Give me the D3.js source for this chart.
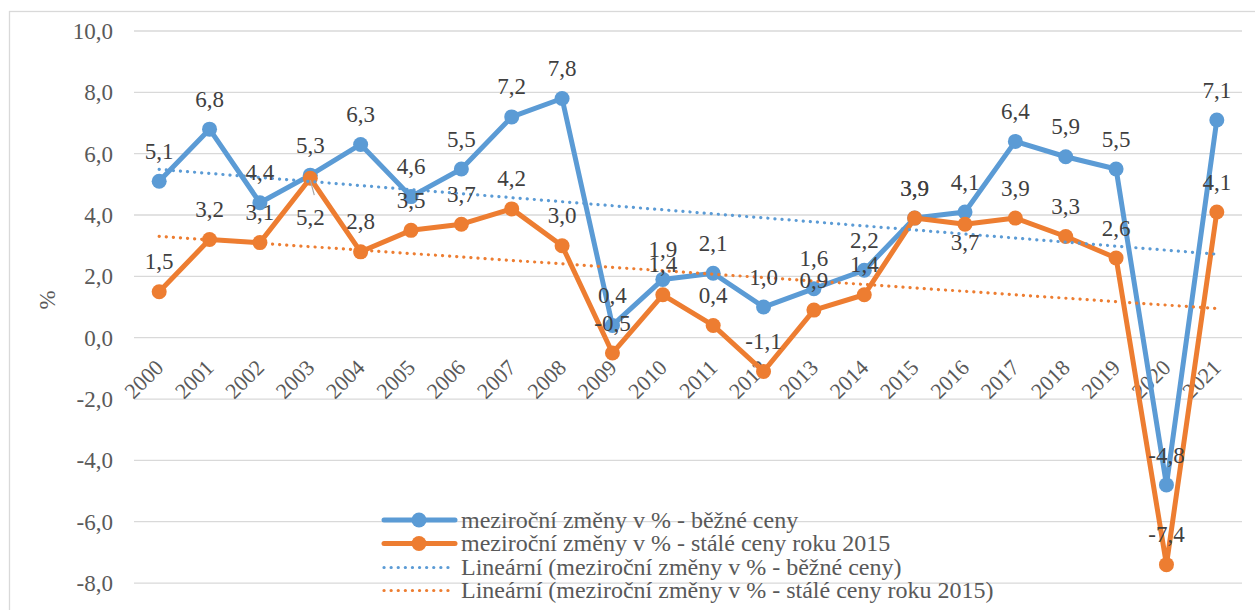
<!DOCTYPE html>
<html>
<head>
<meta charset="utf-8">
<script src="https://cdn.jsdelivr.net/npm/d3@7/dist/d3.min.js"></script>
<style>
  html, body { margin: 0; padding: 0; background: #ffffff; }
  svg { display: block; }
  svg text { font-family: "Liberation Serif", "DejaVu Serif", serif !important; }
</style>
</head>
<body>
<svg id="chart" width="1255" height="610" font-family="Liberation Serif, serif"></svg>
<script>
// ---------- data ----------
const years = ["2000","2001","2002","2003","2004","2005","2006","2007","2008","2009","2010",
               "2011","2012","2013","2014","2015","2016","2017","2018","2019","2020","2021"];
const currentPrices  = [5.1, 6.8, 4.4, 5.3, 6.3, 4.6, 5.5, 7.2, 7.8, 0.4, 1.9,
                        2.1, 1.0, 1.6, 2.2, 3.9, 4.1, 6.4, 5.9, 5.5, -4.8, 7.1];
const constantPrices = [1.5, 3.2, 3.1, 5.2, 2.8, 3.5, 3.7, 4.2, 3.0, -0.5, 1.4,
                        0.4, -1.1, 0.9, 1.4, 3.9, 3.7, 3.9, 3.3, 2.6, -7.4, 4.1];
const gridTicks = [-10, -8, -6, -4, -2, 0, 2, 4, 6, 8, 10];
const yTickLabels = [-8, -6, -4, -2, 0, 2, 4, 6, 8, 10];
const yAxisTitle = "%";
const legendLabels = [
  "meziroční změny v % - běžné ceny",
  "meziroční změny v % - stálé ceny roku 2015",
  "Lineární (meziroční změny v % - běžné ceny)",
  "Lineární (meziroční změny v % - stálé ceny roku 2015)"
];
// label placement for the constant-price series ("above" default)
const constantLabelPlacement = {"2003": "belowFar", "2016": "below"};

// ---------- styles ----------
const BLUE = "#5B9BD5", ORANGE = "#ED7D31", GRID = "#D9D9D9";
const LABEL_COLOR = "#404040", TICK_COLOR = "#595959";
const FONT = '"Liberation Serif", "DejaVu Serif", serif';

const svg = d3.select("#chart");

// chart frame (cropped by the picture edge on right/bottom)
svg.append("rect")
  .attr("x", 9.5).attr("y", 11.5).attr("width", 1300).attr("height", 700)
  .attr("fill", "#fff").attr("stroke", GRID).attr("stroke-width", 1.3);

const x = d3.scalePoint().domain(years).range([134, 1242]).padding(0.5);
const y = d3.scaleLinear().domain([-10, 10]).range([644.4, 31]);

const fmt = v => d3.format(".1f")(v).replace(".", ",").replace("−", "-");

// gridlines
svg.append("g").selectAll("line").data(gridTicks).join("line")
  .attr("x1", 134).attr("x2", 1242)
  .attr("y1", d => y(d)).attr("y2", d => y(d))
  .attr("stroke", GRID).attr("stroke-width", 1.3);

// y axis via d3.axisLeft (labels only)
const yAxis = d3.axisLeft(y).tickValues(yTickLabels).tickFormat(fmt).tickSize(0).tickPadding(0);
const gy = svg.append("g").attr("transform", "translate(113,0)").call(yAxis)
  .attr("font-family", null).attr("font-size", null);
gy.select(".domain").remove();
gy.selectAll("text")
  .attr("fill", TICK_COLOR)
  .style("font-family", FONT)
  .style("font-size", "23px")
  .attr("dy", "0.33em");

// y axis title
svg.append("text")
  .attr("transform", "translate(55,300) rotate(-90)")
  .attr("text-anchor", "middle")
  .attr("fill", TICK_COLOR)
  .style("font-family", FONT)
  .style("font-size", "23px")
  .text(yAxisTitle);

// x axis category labels (rotated)
svg.append("g").selectAll("text").data(years).join("text")
  .attr("transform", d => `translate(${x(d) + 5.5},369) rotate(-45)`)
  .attr("text-anchor", "end")
  .attr("fill", TICK_COLOR)
  .style("font-family", FONT)
  .style("font-size", "22px")
  .text(d => d);

// series
const series = [
  {key: "current", values: currentPrices, color: BLUE},
  {key: "constant", values: constantPrices, color: ORANGE}
];

const line = d3.line().x(d => x(d.year)).y(d => y(d.v));

series.forEach(s => {
  const pts = years.map((yr, i) => ({year: yr, v: s.values[i]}));
  svg.append("path").datum(pts)
    .attr("d", line).attr("fill", "none")
    .attr("stroke", s.color).attr("stroke-width", 5)
    .attr("stroke-linejoin", "round").attr("stroke-linecap", "round");
  svg.append("g").selectAll("circle").data(pts).join("circle")
    .attr("cx", d => x(d.year)).attr("cy", d => y(d.v)).attr("r", 7.5)
    .attr("fill", s.color);
});

// linear trendlines (least squares of each series)
function linReg(vals) {
  const n = vals.length, xs = d3.range(n);
  const mx = d3.mean(xs), my = d3.mean(vals);
  let num = 0, den = 0;
  xs.forEach((xi, i) => { num += (xi - mx) * (vals[i] - my); den += (xi - mx) ** 2; });
  const b = num / den, a = my - b * mx;
  return i => a + b * i;
}
series.forEach(s => {
  const f = linReg(s.values);
  const ends = [0, years.length - 1].map(i => ({year: years[i], v: f(i)}));
  svg.append("path").datum(ends)
    .attr("d", line).attr("fill", "none")
    .attr("stroke", s.color).attr("stroke-width", 3.2)
    .attr("stroke-dasharray", "0.1,7").attr("stroke-linecap", "round");
});

// leader line for moved label
{
  const yr = "2003", i = years.indexOf(yr);
  svg.append("line")
    .attr("x1", x(yr)).attr("y1", y(constantPrices[i]) + 2)
    .attr("x2", x(yr) + 4).attr("y2", y(constantPrices[i]) + 17)
    .attr("stroke", "#A6A6A6").attr("stroke-width", 1.2);
}

// data labels
function labelOffset(key, yr) {
  if (key === "constant") {
    const p = constantLabelPlacement[yr];
    if (p === "belowFar") return 39;
    if (p === "below") return 18;
  }
  return -30;
}
series.forEach(s => {
  svg.append("g").selectAll("text").data(years).join("text")
    .attr("x", d => x(d))
    .attr("y", (d, i) => y(s.values[i]) + labelOffset(s.key, d) + 7.6)
    .attr("text-anchor", "middle")
    .attr("fill", LABEL_COLOR)
    .style("font-family", FONT)
    .style("font-size", "23px")
    .text((d, i) => fmt(s.values[i]));
});

// legend
const legendRows = [520, 543.5, 567.5, 590.5];
legendLabels.forEach((lab, i) => {
  const g = svg.append("g");
  const ry = legendRows[i];
  const color = i % 2 === 0 ? BLUE : ORANGE;
  if (i < 2) {
    g.append("line").attr("x1", 384).attr("x2", 455).attr("y1", ry).attr("y2", ry)
      .attr("stroke", color).attr("stroke-width", 5).attr("stroke-linecap", "round");
    g.append("circle").attr("cx", 419).attr("cy", ry).attr("r", 7.5).attr("fill", color);
  } else {
    g.append("line").attr("x1", 384).attr("x2", 455).attr("y1", ry).attr("y2", ry)
      .attr("stroke", color).attr("stroke-width", 3.2)
      .attr("stroke-dasharray", "0.1,7").attr("stroke-linecap", "round");
  }
  g.append("text").attr("x", 461).attr("y", ry + 7.5)
    .attr("fill", TICK_COLOR)
    .style("font-family", FONT)
    .style("font-size", "24px").text(lab);
});
</script>
</body>
</html>
